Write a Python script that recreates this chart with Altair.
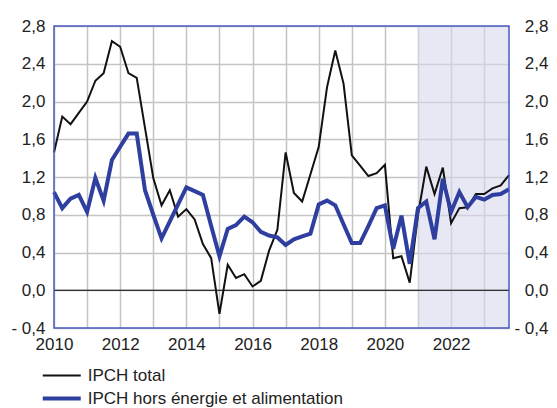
import altair as alt
import pandas as pd

# ---- data (quarterly, 2010Q1 .. 2023Q4) ----
quarters = [2010 + q / 4 for q in range(56)]
ipch_total = [1.46, 1.84, 1.76, 1.88, 2.00, 2.22, 2.30, 2.64,
              2.58, 2.30, 2.25, 1.72, 1.19, 0.90, 1.06, 0.78,
              0.86, 0.75, 0.49, 0.34, -0.25, 0.27, 0.13, 0.17,
              0.04, 0.10, 0.42, 0.64, 1.46, 1.03, 0.94, 1.23,
              1.52, 2.15, 2.54, 2.19, 1.43, 1.32, 1.21, 1.24,
              1.33, 0.34, 0.36, 0.08, 0.80, 1.31, 1.02, 1.30,
              0.71, 0.87, 0.88, 1.02, 1.02, 1.08, 1.11, 1.22]
ipch_core = [1.04, 0.87, 0.97, 1.01, 0.83, 1.19, 0.95, 1.38,
             1.52, 1.66, 1.66, 1.06, 0.80, 0.55, 0.73, 0.91,
             1.09, 1.05, 1.01, 0.68, 0.36, 0.65, 0.69, 0.78,
             0.72, 0.62, 0.58, 0.56, 0.48, 0.54, 0.57, 0.60,
             0.91, 0.95, 0.90, 0.70, 0.50, 0.50, 0.68, 0.87,
             0.90, 0.44, 0.79, 0.28, 0.87, 0.94, 0.54, 1.18,
             0.83, 1.04, 0.88, 0.99, 0.96, 1.01, 1.02, 1.07]
series_names = ["IPCH total", "IPCH hors énergie et alimentation"]
series_colors = ["#111111", "#2f3f9f"]
series_widths = [2, 4]

y_ticks = [-0.4, 0.0, 0.4, 0.8, 1.2, 1.6, 2.0, 2.4, 2.8]
x_years = list(range(2010, 2024))
x_domain = [2010, 2023.75]
y_domain = [-0.4, 2.8]
shade_range = [2021.0, 2023.75]

FONT = "Liberation Sans"
FS = 17

df_total = pd.DataFrame({"t": quarters, "v": ipch_total, "s": series_names[0]})
df_core = pd.DataFrame({"t": quarters, "v": ipch_core, "s": series_names[1]})
shade_df = pd.DataFrame({"x0": [shade_range[0]], "x1": [shade_range[1]],
                         "y0": [y_domain[0]], "y1": [y_domain[1]]})
frame_df = pd.DataFrame({"x0": [x_domain[0]], "x1": [x_domain[1]],
                         "y0": [y_domain[0]], "y1": [y_domain[1]]})
zero_df = pd.DataFrame({"v": [0.0]})

x_scale = alt.Scale(domain=x_domain, nice=False, zero=False)
y_scale = alt.Scale(domain=y_domain, nice=False, zero=False)

x_axis = alt.Axis(values=x_years,
                  labelExpr="datum.value % 2 == 0 ? format(datum.value, 'd') : ''",
                  grid=True, gridColor="#c4c4c4", gridWidth=1.5,
                  ticks=False, domain=False, labelFontSize=FS, labelFont=FONT,
                  labelColor="#222222", labelPadding=8, title=None, labelFlush=False)
ylab = "(datum.value < -0.001 ? '- ' : '') + replace(format(abs(datum.value), '.1f'), '.', ',')"
y_left = alt.Axis(values=y_ticks, labelExpr=ylab, grid=True, gridColor="#c4c4c4",
                  gridWidth=1.5, ticks=False, domain=False, labelFontSize=FS,
                  labelFont=FONT, labelColor="#222222", labelPadding=9, title=None)
y_right = alt.Axis(values=y_ticks, labelExpr=ylab, orient="right", grid=False,
                   ticks=False, domain=False, labelFontSize=FS, labelFont=FONT,
                   labelColor="#222222", labelPadding=39, labelAlign="right", title=None)

color_scale = alt.Scale(domain=series_names, range=series_colors)
width_scale = alt.Scale(domain=series_names, range=series_widths)
legend = alt.Legend(title=None, orient="none", legendX=-0.75, legendY=341,
                    symbolType="M-4,0H4", symbolSize=90.25, labelOffset=17.5,
                    labelFontSize=FS, labelFont=FONT, labelColor="#222222",
                    labelLimit=0, rowPadding=5, padding=0, direction="vertical")

shade = alt.Chart(shade_df).mark_rect(color="#d8d8ec", opacity=0.6).encode(
    x=alt.X("x0:Q", scale=x_scale, axis=x_axis), x2="x1:Q",
    y=alt.Y("y0:Q", scale=y_scale, axis=None), y2="y1:Q")

zero = alt.Chart(zero_df).mark_rule(color="#000000", strokeWidth=1.2).encode(
    y=alt.Y("v:Q", scale=y_scale, axis=y_right))

def series_layer(d, axis):
    return alt.Chart(d).mark_line(strokeJoin="miter").encode(
        x=alt.X("t:Q", scale=x_scale, axis=x_axis),
        y=alt.Y("v:Q", scale=y_scale, axis=axis),
        color=alt.Color("s:N", scale=color_scale, legend=legend),
        strokeWidth=alt.StrokeWidth("s:N", scale=width_scale, legend=legend),
        order="t:Q")

black = series_layer(df_total, None)
blue = series_layer(df_core, y_left)

frame = alt.Chart(frame_df).mark_rect(fillOpacity=0, stroke="#4a5bbf", strokeWidth=1.5).encode(
    x=alt.X("x0:Q", scale=x_scale, axis=x_axis), x2="x1:Q",
    y=alt.Y("y0:Q", scale=y_scale, axis=None), y2="y1:Q")

chart = alt.layer(shade, zero, black, blue, frame).resolve_axis(y="independent").properties(
    width=455, height=302,
    padding={"left": 46, "top": 18, "right": 40, "bottom": 80},
    autosize=alt.AutoSizeParams(type="none"),
).configure_view(stroke=None)

chart.save("out.html", embed_options={"renderer": "svg", "actions": False})
